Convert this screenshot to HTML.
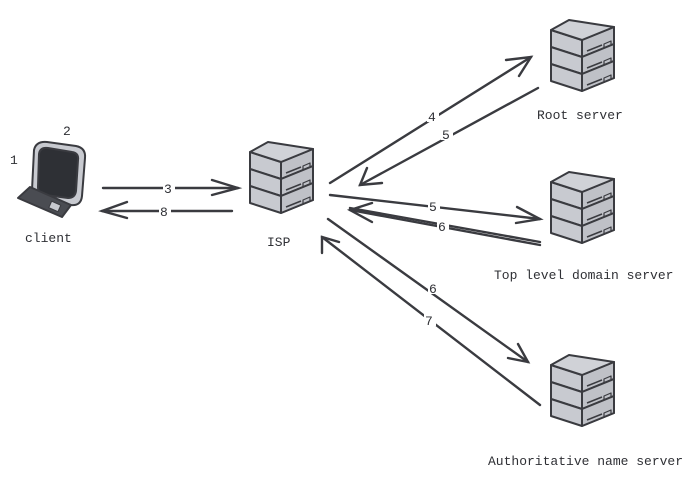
<!DOCTYPE html>
<html><head><meta charset="utf-8"><style>
body{margin:0;background:#fff}
svg text{font-family:"Liberation Mono",monospace;font-size:13px;fill:#2f3035}
</style></head><body>
<svg width="700" height="481" viewBox="0 0 700 481" xmlns="http://www.w3.org/2000/svg">
<defs>
<g id="srv" stroke="#3a3b40" stroke-width="2" stroke-linejoin="round" fill="#c8cad0">
  <g id="lay">
  <polygon points="1,12 32,22 64,9 64,26 32,39 1,29"/>
  <polygon points="32,22 64,9 64,26 32,39" fill="#bfc1c7"/>
  <line x1="37" y1="33" x2="52" y2="27" stroke-width="1.5"/>
  <polygon points="54,26 61,23 61,27 54,30" stroke-width="1.2" fill="none"/>
  </g>
  <use href="#lay" y="17"/>
  <use href="#lay" y="34"/>
  <polygon points="1,12 19,2 64,9 32,22" fill="#d0d2d7"/>
</g>
</defs>
<use href="#srv" x="550" y="18"/>
<use href="#srv" x="550" y="170"/>
<use href="#srv" x="550" y="353"/>
<use href="#srv" x="249" y="140"/>

<!-- client -->
<g stroke="#3a3b40" stroke-width="2" stroke-linejoin="round">
  <path d="M34,150 Q36,141 47,142 L76,146 Q86,148 85,158 L82,196 Q81,206 71,205 L41,201 Q31,200 32,190 Z" fill="#c8cad0"/>
  <path d="M39,154 Q40,147 48,148 L72,152 Q79,153 78,160 L76,191 Q75,198 68,198 L45,195 Q38,194 38,187 Z" fill="#2e3035"/>
  <polygon points="18,198 30,187 71,205 62,217" fill="#4a4c52"/>
  <rect x="50" y="203" width="10" height="7" fill="#c8cad0" stroke-width="1" transform="rotate(24 55 206)"/>
</g>
<text x="10" y="164">1</text>
<text x="63" y="135">2</text>
<text x="25" y="242">client</text>
<text x="267" y="246">ISP</text>
<text x="537" y="119">Root server</text>
<text x="494" y="279">Top level domain server</text>
<text x="488" y="465">Authoritative name server</text>

<g stroke="#3a3b40" stroke-width="2.4" fill="none" stroke-linecap="round">
  <line x1="103" y1="188" x2="238" y2="188"/><path d="M212,180 L238,188 L212,195"/>
  <line x1="232" y1="211" x2="102" y2="211"/><path d="M127,202 L102,211 L127,218"/>
  <line x1="330" y1="183" x2="531" y2="57"/><path d="M506,60 L531,57 L519,76"/>
  <line x1="538" y1="88" x2="360" y2="185"/><path d="M367,168 L360,185 L382,183"/>
  <line x1="330" y1="195" x2="540" y2="219"/><path d="M517,207 L540,219 L516,223"/>
  <line x1="540" y1="245" x2="350" y2="210"/><line x1="540" y1="242" x2="350" y2="208"/><path d="M372,203 L350,210 L372,222"/>
  <line x1="328" y1="219" x2="528" y2="362"/><path d="M518,344 L528,362 L508,358"/>
  <line x1="540" y1="405" x2="322" y2="237"/><path d="M322,253 L322,237 L339,242"/>
</g>
<g font-size="14">
<rect x="163" y="180" width="12" height="14" fill="#fff"/><text x="164" y="193">3</text>
<rect x="159" y="203" width="12" height="14" fill="#fff"/><text x="160" y="216">8</text>
<rect x="427" y="108" width="12" height="14" fill="#fff"/><text x="428" y="121">4</text>
<rect x="441" y="126" width="12" height="14" fill="#fff"/><text x="442" y="139">5</text>
<rect x="428" y="198" width="12" height="14" fill="#fff"/><text x="429" y="211">5</text>
<rect x="437" y="218" width="12" height="14" fill="#fff"/><text x="438" y="231">6</text>
<rect x="428" y="280" width="12" height="14" fill="#fff"/><text x="429" y="293">6</text>
<rect x="424" y="312" width="12" height="14" fill="#fff"/><text x="425" y="325">7</text>
</g>
</svg>
</body></html>
